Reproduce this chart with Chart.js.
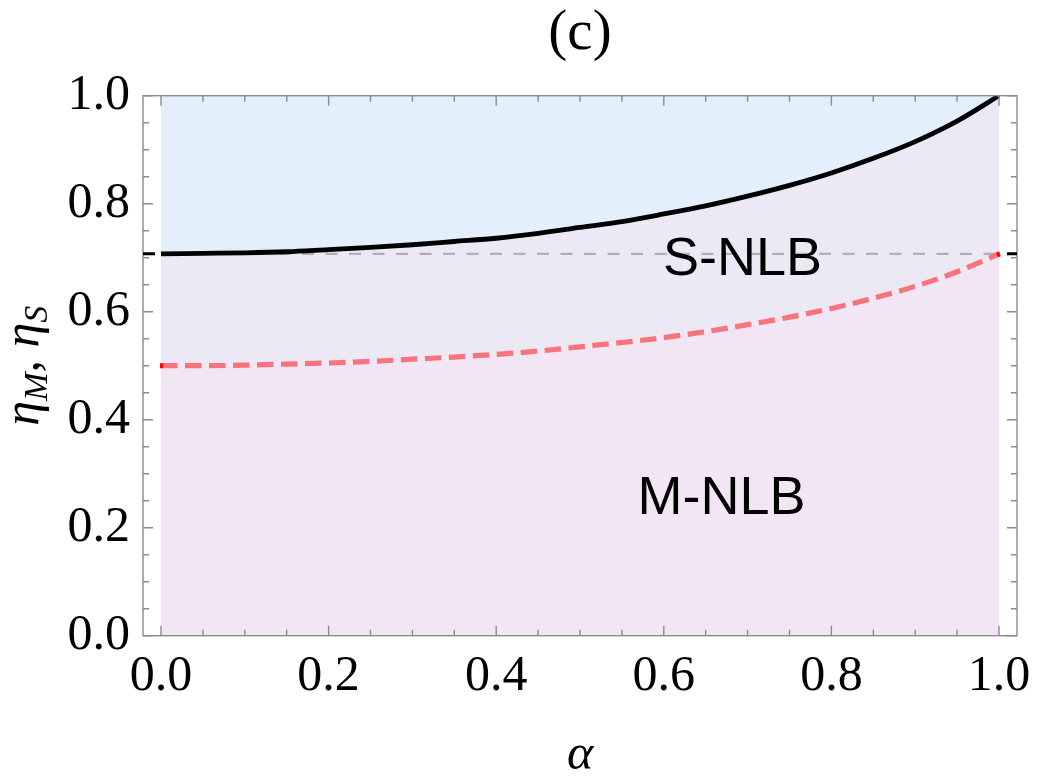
<!DOCTYPE html>
<html>
<head>
<meta charset="utf-8">
<script src="https://cdn.jsdelivr.net/npm/chart.js@4.4.1/dist/chart.umd.min.js"></script>
<style>
  body { margin: 0; background: #fff; }
  #wrap { width: 1063px; height: 783px; position: relative; }
</style>
</head>
<body>
<div id="wrap"><canvas id="myChart"></canvas></div>
<script>
// alpha values along the curves
const alphas = [0, 0.05, 0.1, 0.15, 0.2, 0.25, 0.3, 0.35, 0.4, 0.45, 0.5,
                0.55, 0.6, 0.65, 0.7, 0.75, 0.8, 0.85, 0.9, 0.95, 1.0];
// upper boundary (black solid)
const etaUpper = [0.707, 0.708, 0.709, 0.711, 0.715, 0.719, 0.724, 0.730, 0.736, 0.745, 0.756,
                  0.767, 0.781, 0.796, 0.814, 0.834, 0.857, 0.884, 0.915, 0.953, 1.0];
// lower boundary (red dashed)
const etaLower = [0.500, 0.500, 0.501, 0.503, 0.505, 0.508, 0.512, 0.516, 0.521, 0.527, 0.535,
                  0.543, 0.552, 0.563, 0.576, 0.590, 0.606, 0.625, 0.647, 0.674, 0.707];
// reference level 1/sqrt(2)
const refLevel = 0.7071;
const topLevel = 1.0;

const xTicks = [0, 0.2, 0.4, 0.6, 0.8, 1.0];
const yTicks = [0, 0.2, 0.4, 0.6, 0.8, 1.0];
const minorStep = 0.05;

const regionLabels = [
    { text: 'S-NLB', x: 0.694, y: 0.696 },
    { text: 'M-NLB', x: 0.669, y: 0.253 }
];

document.addEventListener("DOMContentLoaded", function() {
    const ctx = document.getElementById('myChart').getContext('2d');
    const frameColor = '#8c8c8c';

    const pts = (ys) => alphas.map((a, i) => ({ x: a, y: ys[i] }));

    // frame, inward ticks, labels inside the plot, y title
    const framePlugin = {
        id: 'frame',
        afterDatasetsDraw(chart) {
            const c = chart.ctx;
            const a = chart.chartArea;
            const xs = chart.scales.x, ys = chart.scales.y;
            c.save();
            c.strokeStyle = frameColor;
            c.lineWidth = 1.4;
            c.strokeRect(a.left, a.top, a.right - a.left, a.bottom - a.top);

            for (let k = 0; k <= 20; k++) {
                const v = k * minorStep;
                const major = k % 4 === 0;
                const L = major ? 10 : 6;
                const px = xs.getPixelForValue(v);
                c.beginPath();
                c.moveTo(px, a.bottom); c.lineTo(px, a.bottom - L);
                c.moveTo(px, a.top); c.lineTo(px, a.top + L);
                const py = ys.getPixelForValue(v);
                c.moveTo(a.left, py); c.lineTo(a.left + L, py);
                c.moveTo(a.right, py); c.lineTo(a.right - L, py);
                c.stroke();
            }
            // black tick at 1/sqrt(2)
            const pr = ys.getPixelForValue(refLevel);
            c.strokeStyle = '#000';
            c.lineWidth = 3;
            c.beginPath();
            c.moveTo(a.left, pr); c.lineTo(a.left + 12, pr);
            c.moveTo(a.right, pr); c.lineTo(a.right - 10, pr);
            c.stroke();

            // red end caps of the dashed curve
            c.strokeStyle = 'rgb(255, 0, 0)';
            c.lineWidth = 5;
            const x0 = xs.getPixelForValue(alphas[0]);
            const y0 = ys.getPixelForValue(etaLower[0]);
            const x1 = xs.getPixelForValue(alphas[alphas.length - 1]);
            const y1 = ys.getPixelForValue(etaLower[etaLower.length - 1]);
            c.beginPath();
            c.moveTo(x0 - 1, y0); c.lineTo(x0 + 2, y0);
            c.moveTo(x1 - 2, y1 + 1); c.lineTo(x1 + 1, y1);
            c.stroke();

            // region labels
            c.fillStyle = '#000';
            c.font = '54px "Liberation Sans", Arial, sans-serif';
            c.textAlign = 'center';
            c.textBaseline = 'middle';
            regionLabels.forEach(l => {
                c.fillText(l.text, xs.getPixelForValue(l.x), ys.getPixelForValue(l.y));
            });

            // y axis title: eta_M, eta_S
            const parts = [
                { t: '\u03B7', f: 'italic 50px "Liberation Serif"', dy: 0 },
                { t: 'M', f: 'italic 34px "Liberation Serif"', dy: 9 },
                { t: ', ', f: '50px "Liberation Serif"', dy: 0 },
                { t: '\u03B7', f: 'italic 50px "Liberation Serif"', dy: 0 },
                { t: 'S', f: 'italic 34px "Liberation Serif"', dy: 9 }
            ];
            let total = 0;
            parts.forEach(p => { c.font = p.f; p.w = c.measureText(p.t).width; total += p.w; });
            c.translate(38, (a.top + a.bottom) / 2);
            c.rotate(-Math.PI / 2);
            c.textAlign = 'left';
            c.textBaseline = 'alphabetic';
            let cx = -total / 2;
            parts.forEach(p => {
                c.font = p.f;
                c.fillText(p.t, cx, p.dy);
                cx += p.w;
            });
            c.restore();
        }
    };

    const myChart = new Chart(ctx, {
        type: 'line',
        data: {
            datasets: [{
                label: 'lower',
                data: pts(etaLower),
                borderColor: 'rgb(247, 116, 126)',
                borderWidth: 5.2,
                borderDash: [16.5, 7.5],
                backgroundColor: 'rgb(242, 230, 244)',
                fill: 'origin',
                pointRadius: 0,
                cubicInterpolationMode: 'monotone'
            }, {
                label: 'upper',
                data: pts(etaUpper),
                borderColor: '#000',
                borderWidth: 4.8,
                backgroundColor: 'rgb(236, 232, 244)',
                fill: '-1',
                pointRadius: 0,
                cubicInterpolationMode: 'monotone'
            }, {
                label: 'top',
                data: [{ x: alphas[0], y: topLevel }, { x: alphas[alphas.length - 1], y: topLevel }],
                borderWidth: 0,
                borderColor: 'rgba(0,0,0,0)',
                backgroundColor: 'rgb(227, 239, 251)',
                fill: '-1',
                pointRadius: 0
            }, {
                label: 'ref',
                data: [{ x: alphas[0], y: refLevel }, { x: alphas[alphas.length - 1], y: refLevel }],
                borderColor: 'rgb(176, 174, 184)',
                borderWidth: 2.2,
                borderDash: [12, 11.5],
                fill: false,
                pointRadius: 0
            }]
        },
        options: {
            responsive: true,
            maintainAspectRatio: false,
            animation: false,
            layout: { padding: { left: 0, right: 46, top: 0, bottom: 0 } },
            plugins: {
                legend: { display: false },
                tooltip: { enabled: false },
                filler: { drawTime: 'beforeDatasetsDraw' },
                title: {
                    display: true,
                    fullSize: false,
                    text: '(c)',
                    color: '#000',
                    font: { family: '"Liberation Serif", serif', size: 57, weight: 'normal', lineHeight: 1.2 },
                    padding: { top: 0, bottom: 27.3 }
                }
            },
            scales: {
                x: {
                    type: 'linear',
                    min: -0.0215,
                    max: 1.0215,
                    afterBuildTicks: s => { s.ticks = xTicks.map(v => ({ value: v })); },
                    afterFit: s => { s.height = 147.3; },
                    grid: { display: false, drawTicks: false },
                    border: { display: false },
                    ticks: {
                        color: '#000',
                        padding: 11,
                        maxRotation: 0,
                        font: { family: '"Liberation Serif", serif', size: 50 },
                        callback: v => v.toFixed(1)
                    },
                    title: {
                        display: true,
                        text: '\u03B1',
                        color: '#000',
                        font: { family: '"Liberation Serif", serif', size: 50, style: 'italic', lineHeight: 1.0 },
                        padding: { top: 0, bottom: 2 }
                    }
                },
                y: {
                    type: 'linear',
                    min: 0,
                    max: 1,
                    afterBuildTicks: s => { s.ticks = yTicks.map(v => ({ value: v })); },
                    afterFit: s => { s.width = 143; },
                    grid: { display: false, drawTicks: false },
                    border: { display: false },
                    ticks: {
                        color: '#000',
                        padding: 13,
                        font: { family: '"Liberation Serif", serif', size: 50 },
                        callback: v => v.toFixed(1)
                    }
                }
            }
        },
        plugins: [framePlugin]
    });
});
</script>
</body>
</html>
